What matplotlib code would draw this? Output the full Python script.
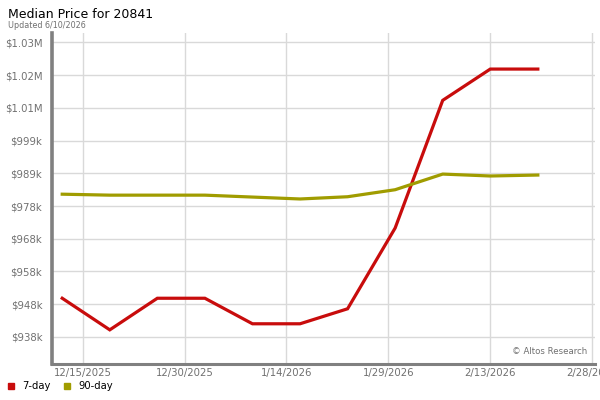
import numpy as np
import matplotlib
matplotlib.use('Agg')
import matplotlib.pyplot as plt
import matplotlib.dates as mdates
from matplotlib.lines import Line2D
from datetime import datetime, timedelta

# weekly data points
dates = [datetime(2025, 12, 12) + timedelta(days=7 * i) for i in range(11)]
day7 = [949900, 940000, 949900, 949900, 941900, 941900, 946600,
        971900, 1011900, 1021700, 1021700]
day90 = [982500, 982200, 982200, 982200, 981600, 981000, 981700,
         983900, 988800, 988200, 988500]

ytick_vals = [937800 + 10250 * i for i in range(10)]
ytick_labels = ['$938k', '$948k', '$958k', '$968k', '$978k', '$989k',
                '$999k', '$1.01M', '$1.02M', '$1.03M']
xtick_dates = [datetime(2025, 12, 15) + timedelta(days=15 * i) for i in range(6)]
xtick_labels = ['12/15/2025', '12/30/2025', '1/14/2026', '1/29/2026',
                '2/13/2026', '2/28/2026']

red = '#c80c0c'
olive = '#a09c00'
gray = '#808080'

fig = plt.figure(figsize=(6, 4), dpi=100)
ax = fig.add_axes([0.0867, 0.09, 0.905, 0.8275])

ax.plot(dates, day7, color=red, lw=2.3, solid_joinstyle='miter', zorder=3)
ax.plot(dates, day90, color=olive, lw=2.3, zorder=3)

ax.set_ylim(929300, 1033000)
ax.set_xlim(datetime(2025, 12, 10, 12), datetime(2026, 2, 28, 10))

ax.set_yticks(ytick_vals)
ax.set_yticklabels(ytick_labels)
ax.set_xticks([mdates.date2num(d) for d in xtick_dates])
ax.set_xticklabels(xtick_labels)

ax.grid(True, color='#d9d9d9', lw=1)
ax.set_axisbelow(True)
ax.tick_params(axis='both', length=0, labelsize=7.3, labelcolor='#707070')
ax.tick_params(axis='y', pad=7)
ax.tick_params(axis='x', pad=3)

for s in ['top', 'right']:
    ax.spines[s].set_visible(False)
ax.spines['left'].set_color(gray)
ax.spines['left'].set_linewidth(2.6)
ax.spines['bottom'].set_color(gray)
ax.spines['bottom'].set_linewidth(2.2)

ax.text(0.985, 0.025, '\u00a9 Altos Research', transform=ax.transAxes,
        ha='right', va='bottom', fontsize=6.2, color='#707070')

fig.text(0.013, 0.965, 'Median Price for 20841', fontsize=9.0, color='black',
         va='center')
fig.text(0.013, 0.937, 'Updated 6/10/2026', fontsize=5.8, color='#707070',
         va='center')

handles = [Line2D([], [], ls='', marker='s', ms=5, color=red),
           Line2D([], [], ls='', marker='s', ms=5, color=olive)]
fig.legend(handles, ['7-day', '90-day'], loc='center left',
           bbox_to_anchor=(-0.005, 0.035), ncol=2, frameon=False,
           fontsize=7.2, handlelength=1.0, handletextpad=0.6,
           columnspacing=1.2)

fig.savefig('out.png', dpi=100)
